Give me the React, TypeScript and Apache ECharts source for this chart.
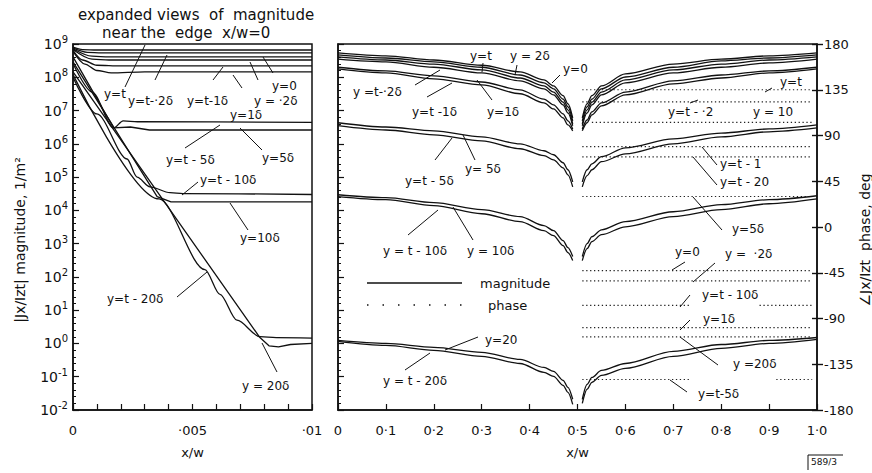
import React, { useEffect, useRef } from "react";
import * as echarts from "echarts";

const FONT = "DejaVu Sans";
const INK = "#111";

// ---------- tick labels ----------
const LEFT_X_TICK_LABELS: [number, string][] = [
  [0, "0"],
  [0.005, "·005"],
  [0.01, "·01"],
];
const RIGHT_X_TICK_LABELS = ["0", "0·1", "0·2", "0·3", "0·4", "0·5", "0·6", "0·7", "0·8", "0·9", "1·0"];
// magnitude axis decades: 10^-2 … 10^9
const MAG_DECADE_MIN = -2;
const MAG_DECADE_MAX = 9;

// ---------- left panel: expanded view near x/w = 0, [x/w, |Jx/Izt|] ----------
const L_YT = [[0, 8.0e8], [0.0004, 6.8e8], [0.001, 6.6e8], [0.01, 6.6e8]];
const L_Y02 = [[0, 7.6e8], [0.0006, 5.6e8], [0.0012, 5.4e8], [0.01, 5.4e8]];
const L_Y0 = [[0, 7.2e8], [0.0008, 4.3e8], [0.0015, 4.1e8], [0.01, 4.1e8]];
const L_YT02 = [[0, 6.8e8], [0.0008, 3.5e8], [0.0015, 3.3e8], [0.01, 3.3e8]];
const L_Y1 = [[0, 6.4e8], [0.0004, 3.3e8], [0.001, 2.3e8], [0.002, 2.2e8], [0.01, 2.2e8]];
const L_YT1 = [[0, 6.0e8], [0.0005, 2.5e8], [0.001, 1.6e8], [0.0016, 1.35e8], [0.003, 1.45e8], [0.01, 1.45e8]];
const L_YT5 = [[0, 2.6e8], [0.0008, 3.6e7], [0.0017, 3.0e6], [0.0021, 4.9e6], [0.0027, 4.6e6], [0.01, 4.4e6]];
const L_Y5 = [[0, 4.1e8], [0.0017, 3.0e6], [0.0024, 3.2e6], [0.0032, 2.6e6], [0.01, 2.6e6]];
const L_YT10 = [[0, 1.0e8], [0.001, 7.9e6], [0.00226, 3.5e5], [0.00268, 1.0e5], [0.00322, 5.1e4], [0.00406, 3.4e4], [0.0046, 3.2e4], [0.01, 3.0e4]];
const L_Y10 = [[0, 2.9e8], [0.00352, 2.6e4], [0.0041, 1.8e4], [0.01, 1.8e4]];
const L_YT20 = [[0, 1.2e8], [0.0036, 2.2e4], [0.00552, 1.66e2], [0.00615, 30], [0.00686, 5.0], [0.00782, 1.6], [0.0085, 1.5], [0.01, 1.45]];
const L_Y20 = [[0, 1.45e8], [0.00782, 1.5], [0.0082, 0.85], [0.0086, 0.79], [0.0091, 0.93], [0.01, 1.0]];

// ---------- right panel: magnitude across the strip ----------
const XL = [0, 0.1, 0.2, 0.3, 0.38, 0.43, 0.45, 0.47, 0.48, 0.49];
const XR = [0.51, 0.52, 0.53, 0.55, 0.6, 0.7, 0.8, 0.9, 1.0];

const A1_L = [5.4e8, 4.4e8, 3.3e8, 2.3e8, 1.45e8, 8.3e7, 5.5e7, 2.8e7, 1.6e7, 6.0e6];
const A1_R = [6.0e6, 1.6e7, 2.8e7, 5.5e7, 1.26e8, 2.5e8, 3.5e8, 4.4e8, 5.4e8];
const A2_L = [4.7e8, 3.8e8, 2.9e8, 2.0e8, 1.17e8, 6.8e7, 4.5e7, 2.2e7, 1.3e7, 4.9e6];
const A2_R = [4.9e6, 1.3e7, 2.2e7, 4.5e7, 1.02e8, 2.0e8, 3.1e8, 3.8e8, 4.7e8];
const A3_L = [4.1e8, 3.3e8, 2.5e8, 1.66e8, 9.5e7, 5.5e7, 3.6e7, 1.8e7, 1.05e7, 4.0e6];
const A3_R = [4.0e6, 1.05e7, 1.8e7, 3.6e7, 8.3e7, 1.66e8, 2.5e8, 3.3e8, 4.1e8];
const A4_L = [3.5e8, 2.9e8, 2.0e8, 1.35e8, 7.8e7, 4.5e7, 2.95e7, 1.48e7, 8.5e6, 3.5e6];
const A4_R = [3.5e6, 8.5e6, 1.48e7, 2.95e7, 6.8e7, 1.35e8, 2.0e8, 2.7e8, 3.5e8];
const A5_L = [2.0e8, 1.55e8, 1.1e8, 7.2e7, 4.2e7, 2.2e7, 1.48e7, 7.9e6, 4.9e6, 2.8e6];
const A5_R = [2.8e6, 5.2e6, 9.1e6, 1.7e7, 3.6e7, 7.8e7, 1.17e8, 1.55e8, 2.0e8];
const A6_L = [1.78e8, 1.35e8, 8.9e7, 5.9e7, 3.2e7, 1.7e7, 1.12e7, 6.0e6, 3.7e6, 2.45e6];
const A6_R = [2.45e6, 4.3e6, 7.4e6, 1.38e7, 2.95e7, 6.3e7, 9.5e7, 1.35e8, 1.78e8];

const B1_L = [4.3e6, 3.2e6, 2.45e6, 1.62e6, 1.0e6, 6.2e5, 4.7e5, 2.7e5, 1.66e5, 7.2e4];
const B1_R = [7.2e4, 1.66e5, 2.5e5, 4.1e5, 7.6e5, 1.41e6, 2.1e6, 2.8e6, 3.7e6];
const B2_L = [3.5e6, 2.6e6, 1.86e6, 1.23e6, 7.1e5, 4.4e5, 3.3e5, 1.9e5, 1.17e5, 5.1e4];
const B2_R = [5.1e4, 1.1e5, 1.66e5, 2.9e5, 5.0e5, 1.0e6, 1.62e6, 2.3e6, 3.0e6];

const C1_L = [2.95e4, 2.4e4, 1.7e4, 1.05e4, 6.5e3, 3.5e3, 2.45e3, 1.23e3, 7.6e2, 4.1e2];
const C1_R = [4.1e2, 1.0e3, 1.62e3, 2.6e3, 4.6e3, 9.1e3, 1.48e4, 2.1e4, 2.75e4];
const C2_L = [2.6e4, 2.1e4, 1.38e4, 7.9e3, 4.6e3, 2.45e3, 1.74e3, 8.7e2, 5.4e2, 3.1e2];
const C2_R = [3.1e2, 7.1e2, 1.15e3, 1.86e3, 3.2e3, 6.5e3, 1.05e4, 1.58e4, 2.2e4];

const D1_L = [1.23, 1.0, 0.76, 0.54, 0.33, 0.19, 0.145, 0.078, 0.048, 0.021];
const D1_R = [0.021, 0.059, 0.095, 0.155, 0.25, 0.575, 0.93, 1.23, 1.51];
const D2_L = [1.15, 0.87, 0.62, 0.41, 0.25, 0.135, 0.102, 0.055, 0.034, 0.0148];
const D2_R = [0.0158, 0.042, 0.068, 0.11, 0.178, 0.41, 0.71, 1.0, 1.32];

// ---------- right panel: phase (deg), constant, drawn over 0.5 < x/w < 1 ----------
const PHASE_VALUES = [135, 123, 103, 79, 69, 30, -43, -53, -77, -99, -108, -150];
const PHASE_SPANS: [number, number][][] = [
  [[0.51, 0.99]],
  [[0.51, 0.99]],
  [[0.53, 0.99]],
  [[0.51, 0.99]],
  [[0.51, 0.99]],
  [[0.51, 0.99]],
  [[0.51, 0.99]],
  [[0.51, 0.99]],
  [[0.51, 0.735], [0.88, 0.99]],
  [[0.51, 0.99]],
  [[0.51, 0.99]],
  [[0.51, 0.735], [0.915, 0.99]],
];

// ---------- annotations (pixel positions) ----------
const LABELS: [string, number, number][] = [
  // left panel
  ["y=t", 104, 94],
  ["y=t-·2δ", 128, 101],
  ["y=t-1δ", 187, 101],
  ["y=1δ", 230, 115],
  ["y = ·2δ", 254, 101],
  ["y=0", 272, 86],
  ["y=t - 5δ", 166, 160],
  ["y=5δ", 262, 158],
  ["y=t - 10δ", 200, 180],
  ["y=10δ", 240, 238],
  ["y=t - 20δ", 107, 299],
  ["y = 20δ", 242, 386],
  // right panel, magnitude
  ["y=t", 470, 56],
  ["y = 2δ", 510, 56],
  ["y=0", 563, 69],
  ["y =t-·2δ", 353, 92],
  ["y=t -1δ", 412, 112],
  ["y=1δ", 487, 112],
  ["y=t - 5δ", 405, 181],
  ["y= 5δ", 465, 169],
  ["y = t - 10δ", 383, 251],
  ["y = 10δ", 467, 251],
  ["y=20", 485, 340],
  ["y = t - 20δ", 383, 381],
  // right panel, phase
  ["y=t", 780, 82],
  ["y=t - ·2", 668, 112],
  ["y = 10", 753, 112],
  ["y=t - 1", 720, 164],
  ["y=t - 20", 720, 182],
  ["y=5δ", 732, 229],
  ["y=0", 675, 252],
  ["y =  ·2δ", 725, 254],
  ["y=t - 10δ", 702, 295],
  ["y=1δ", 703, 319],
  ["y =20δ", 733, 364],
  ["y=t-5δ", 698, 394],
];

const LEADERS: [number, number, number, number][] = [
  [125, 87, 145, 45],
  [155, 80, 167, 55],
  [213, 80, 223, 67],
  [242, 88, 233, 75],
  [258, 80, 250, 62],
  [273, 73, 263, 57],
  [185, 148, 220, 125],
  [262, 150, 240, 128],
  [198, 182, 182, 195],
  [248, 230, 230, 203],
  [177, 297, 207, 272],
  [277, 372, 262, 343],
  [483, 63, 482, 72],
  [517, 65, 515, 75],
  [560, 75, 552, 83],
  [415, 85, 440, 70],
  [427, 97, 452, 83],
  [492, 100, 477, 80],
  [435, 160, 452, 138],
  [475, 160, 463, 135],
  [408, 235, 438, 210],
  [473, 240, 453, 207],
  [478, 337, 445, 350],
  [405, 370, 430, 353],
  [772, 88, 765, 92],
  [690, 103, 698, 100],
  [717, 165, 702, 147],
  [717, 185, 693, 157],
  [722, 230, 693, 197],
  [685, 262, 672, 270],
  [715, 263, 693, 282],
  [690, 295, 680, 307],
  [690, 320, 680, 330],
  [718, 365, 680, 337],
  [687, 392, 670, 380],
];

// magnitude is plotted on a decade (log10) scale
const toDecades = (pts: number[][]) => pts.map(([x, v]) => [x, Math.log10(v)]);
const zip = (xs: number[], ys: number[]) => xs.map((x, i) => [x, ys[i]]);

export default function App() {
  const ref = useRef<HTMLDivElement>(null);

  useEffect(() => {
    if (!ref.current) return;
    const chart = echarts.init(ref.current, undefined, { renderer: "svg" });

    const magLine = (data: number[][], xi: number, yi: number, smooth: number | boolean = 0.3) => ({
      type: "line",
      xAxisIndex: xi,
      yAxisIndex: yi,
      data: toDecades(data),
      symbol: "none",
      smooth,
      smoothMonotone: "x",
      silent: true,
      lineStyle: { color: INK, width: 1.3 },
      z: 3,
    });

    const series: any[] = [];
    [L_YT, L_Y02, L_Y0, L_YT02, L_Y1, L_YT1].forEach((d) => series.push(magLine(d, 0, 0, 0.3)));
    [L_YT5, L_YT10, L_YT20].forEach((d) => series.push(magLine(d, 0, 0, 0.3)));
    [L_Y5, L_Y10, L_Y20].forEach((d) => series.push(magLine(d, 0, 0, false)));
    [A1_L, A2_L, A3_L, A4_L, A5_L, A6_L, B1_L, B2_L, C1_L, C2_L, D1_L, D2_L].forEach((d) =>
      series.push(magLine(zip(XL, d), 1, 1))
    );
    [A1_R, A2_R, A3_R, A4_R, A5_R, A6_R, B1_R, B2_R, C1_R, C2_R, D1_R, D2_R].forEach((d) =>
      series.push(magLine(zip(XR, d), 1, 1))
    );
    PHASE_VALUES.forEach((p, i) => {
      PHASE_SPANS[i].forEach(([a, b]) => {
        series.push({
          type: "line",
          xAxisIndex: 1,
          yAxisIndex: 2,
          data: [
            [a, p],
            [b, p],
          ],
          symbol: "none",
          silent: true,
          lineStyle: { color: "#222", width: 1.2, type: [1.3, 2.6] },
          z: 2,
        });
      });
    });

    const logLabel = {
      show: true,
      margin: 5,
      color: INK,
      fontFamily: FONT,
      formatter: (v: number) => `{b|10}{s|${Math.round(v)}}`,
      rich: {
        b: { fontSize: 14, fontFamily: FONT, color: INK },
        s: { fontSize: 10, fontFamily: FONT, color: INK, padding: [0, 0, 9, 0] },
      },
    };

    const magAxis = (gridIndex: number, showLabel: boolean) => ({
      type: "value",
      gridIndex,
      min: MAG_DECADE_MIN,
      max: MAG_DECADE_MAX,
      interval: 1,
      axisLine: { show: true, onZero: false, lineStyle: { color: INK, width: 1.5 } },
      axisTick: { show: true, inside: true, length: 6, lineStyle: { color: INK, width: 1.2 } },
      minorTick: { show: true, splitNumber: 5, length: 3, lineStyle: { color: INK, width: 1 } },
      splitLine: { show: false },
      axisLabel: showLabel ? logLabel : { show: false },
    });

    const option: any = {
      animation: false,
      backgroundColor: "#fff",
      grid: [
        { left: 73, top: 44, width: 239, height: 366, show: true, borderColor: INK, borderWidth: 1.5 },
        { left: 338, top: 44, width: 479, height: 366, show: true, borderColor: INK, borderWidth: 1.5 },
      ],
      xAxis: [
        {
          type: "value",
          gridIndex: 0,
          min: 0,
          max: 0.01,
          interval: 0.001,
          name: "x/w",
          nameLocation: "middle",
          nameGap: 36,
          nameTextStyle: { fontSize: 13, fontFamily: FONT, color: INK },
          axisLine: { show: true, onZero: false, lineStyle: { color: INK, width: 1.5 } },
          axisTick: { show: true, inside: true, length: 6, lineStyle: { color: INK, width: 1.2 } },
          splitLine: { show: false },
          axisLabel: {
            interval: 0,
            margin: 14,
            fontSize: 13,
            fontFamily: FONT,
            color: INK,
            formatter: (v: number) => {
              const hit = LEFT_X_TICK_LABELS.find(([t]) => Math.abs(t - v) < 1e-9);
              return hit ? hit[1] : "";
            },
          },
        },
        {
          type: "value",
          gridIndex: 1,
          min: 0,
          max: 1,
          interval: 0.1,
          name: "x/w",
          nameLocation: "middle",
          nameGap: 36,
          nameTextStyle: { fontSize: 13, fontFamily: FONT, color: INK },
          axisLine: { show: true, onZero: false, lineStyle: { color: INK, width: 1.5 } },
          axisTick: { show: true, inside: true, length: 6, lineStyle: { color: INK, width: 1.2 } },
          splitLine: { show: false },
          axisLabel: {
            interval: 0,
            margin: 14,
            fontSize: 13,
            fontFamily: FONT,
            color: INK,
            formatter: (v: number) => RIGHT_X_TICK_LABELS[Math.round(v * 10)] ?? "",
          },
        },
      ],
      yAxis: [
        magAxis(0, true),
        magAxis(1, false),
        {
          type: "value",
          gridIndex: 1,
          position: "right",
          min: -180,
          max: 180,
          interval: 45,
          axisLine: { show: true, onZero: false, lineStyle: { color: INK, width: 1.5 } },
          axisTick: { show: true, inside: false, length: 6, lineStyle: { color: INK, width: 1.4 } },
          splitLine: { show: false },
          axisLabel: { margin: 7, fontSize: 13, fontFamily: FONT, color: INK },
        },
        {
          type: "value",
          gridIndex: 1,
          position: "right",
          min: -180,
          max: 180,
          interval: 45,
          axisLine: { show: false, onZero: false },
          axisTick: { show: true, inside: true, length: 5, lineStyle: { color: INK, width: 1.4 } },
          splitLine: { show: false },
          axisLabel: { show: false },
        },
      ],
      series,
      graphic: [
        {
          type: "text",
          x: 78,
          y: 15,
          silent: true,
          style: { text: "expanded views  of  magnitude", fontSize: 15, fontFamily: FONT, fill: INK, verticalAlign: "middle" },
        },
        {
          type: "text",
          x: 102,
          y: 33,
          silent: true,
          style: { text: "near the  edge  x/w=0", fontSize: 15, fontFamily: FONT, fill: INK, verticalAlign: "middle" },
        },
        {
          type: "text",
          x: 20,
          y: 240,
          rotation: Math.PI / 2,
          silent: true,
          style: {
            text: "|Jx/Izt| magnitude, 1/m²",
            fontSize: 14,
            fontFamily: FONT,
            fill: INK,
            align: "center",
            verticalAlign: "middle",
          },
        },
        {
          type: "text",
          x: 865,
          y: 240,
          rotation: Math.PI / 2,
          silent: true,
          style: {
            text: "∠Jx/Izt  phase, deg",
            fontSize: 14,
            fontFamily: FONT,
            fill: INK,
            align: "center",
            verticalAlign: "middle",
          },
        },
        // legend
        { type: "line", silent: true, shape: { x1: 367, y1: 283, x2: 462, y2: 283 }, style: { stroke: INK, lineWidth: 1.5 } },
        {
          type: "line",
          silent: true,
          shape: { x1: 367, y1: 305, x2: 462, y2: 305 },
          style: { stroke: INK, lineWidth: 1.5, lineDash: [1.5, 14] },
        },
        {
          type: "text",
          x: 480,
          y: 283,
          silent: true,
          style: { text: "magnitude", fontSize: 13, fontFamily: FONT, fill: INK, verticalAlign: "middle" },
        },
        {
          type: "text",
          x: 488,
          y: 305,
          silent: true,
          style: { text: "phase", fontSize: 13, fontFamily: FONT, fill: INK, verticalAlign: "middle" },
        },
        // figure reference
        { type: "line", silent: true, shape: { x1: 808, y1: 455, x2: 843, y2: 455 }, style: { stroke: INK, lineWidth: 1 } },
        { type: "line", silent: true, shape: { x1: 808, y1: 455, x2: 808, y2: 470 }, style: { stroke: INK, lineWidth: 1 } },
        {
          type: "text",
          x: 811,
          y: 462,
          silent: true,
          style: { text: "589/3", fontSize: 9, fontFamily: FONT, fill: INK, verticalAlign: "middle" },
        },
        ...LABELS.map(([text, x, y]) => ({
          type: "text",
          x,
          y,
          silent: true,
          style: { text, fontSize: 12, fontFamily: FONT, fill: INK, verticalAlign: "middle" },
        })),
        ...LEADERS.map(([x1, y1, x2, y2]) => ({
          type: "line",
          silent: true,
          shape: { x1, y1, x2, y2 },
          style: { stroke: INK, lineWidth: 1 },
        })),
      ],
    };

    chart.setOption(option);
    return () => chart.dispose();
  }, []);

  return (
    <div
      ref={ref}
      style={{ position: "fixed", left: 0, top: 0, width: 872, height: 473, background: "#fff" }}
    />
  );
}
